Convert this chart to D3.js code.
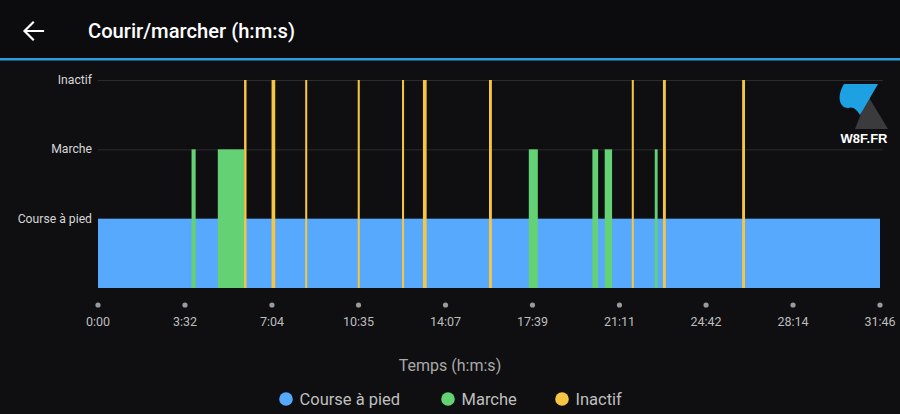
<!DOCTYPE html>
<html>
<head>
<meta charset="utf-8">
<script src="https://cdn.jsdelivr.net/npm/d3@7"></script>
<style>
  html, body { margin: 0; padding: 0; background: #0f0f12; }
  svg { display: block; font-family: Roboto, "Noto Sans", sans-serif; }
</style>
</head>
<body>
<svg id="chart" width="900" height="414"></svg>
<script>
// ---- Data (seconds) ----
const totalDuration = 1906; // 31:46
const levels = ["Course à pied", "Marche", "Inactif"];
const levelColors = ["#56a9fd", "#63d174", "#f7c544"];
const runStart = [0];
const runEnd = [1906];
const walkStart = [228, 292, 1050, 1205, 1235, 1357];
const walkEnd   = [238, 356, 1072, 1219, 1253, 1364];
const idleStart = [356, 423, 505, 633, 741, 792, 953, 1301, 1377, 1570];
const idleEnd   = [362, 432, 510, 638, 746, 801, 960, 1306, 1384, 1577];
const tickValues = [0, 212, 424, 635, 847, 1059, 1271, 1482, 1694, 1906];
const tickLabels = ["0:00", "3:32", "7:04", "10:35", "14:07", "17:39", "21:11", "24:42", "28:14", "31:46"];

const svg = d3.select("#chart");

// header
svg.append("rect").attr("x", 0).attr("y", 0).attr("width", 900).attr("height", 58).attr("fill", "#0c0c0f");
svg.append("rect").attr("x", 0).attr("y", 58).attr("width", 900).attr("height", 2.5).attr("fill", "#2a9fdc");
svg.append("path")
  .attr("d", "M43,31 L25,31 M33,22.5 L24.5,31 L33,39.5")
  .attr("fill", "none").attr("stroke", "#ffffff").attr("stroke-width", 2.2)
  .attr("stroke-linecap", "square");
svg.append("text").attr("x", 88).attr("y", 38)
  .attr("fill", "#ffffff").attr("font-size", 20).attr("font-weight", 500)
  .attr("textLength", 207).attr("lengthAdjust", "spacingAndGlyphs")
  .text("Courir/marcher (h:m:s)");

// scales
const x = d3.scaleLinear().domain([0, totalDuration]).range([98, 880]);
const y = d3.scaleLinear().domain([0, 3]).range([288, 80]);

// gridlines
svg.append("g").selectAll("line").data([2, 3]).join("line")
  .attr("x1", 98).attr("x2", 883)
  .attr("y1", d => y(d) + 0.5).attr("y2", d => y(d) + 0.5)
  .attr("stroke", "#2c2c2e").attr("stroke-width", 1);

// y labels
svg.append("g").selectAll("text").data(levels).join("text")
  .attr("x", 92).attr("y", (d, i) => y(i + 1) + 4)
  .attr("text-anchor", "end").attr("fill", "#d6d6d6").attr("font-size", 12.2)
  .text(d => d);

// bars
function drawSegs(starts, ends, level) {
  const data = starts.map((s, i) => ({ s, e: ends[i] }));
  svg.append("g").selectAll("rect").data(data).join("rect")
    .attr("x", d => x(d.s))
    .attr("width", d => Math.max(1, x(d.e) - x(d.s)))
    .attr("y", y(level + 1))
    .attr("height", y(0) - y(level + 1))
    .attr("fill", levelColors[level]);
}
drawSegs(runStart, runEnd, 0);
drawSegs(walkStart, walkEnd, 1);
drawSegs(idleStart, idleEnd, 2);

// x axis ticks (dots + labels)
const xa = svg.append("g");
xa.selectAll("circle").data(tickValues).join("circle")
  .attr("cx", d => x(d)).attr("cy", 305).attr("r", 2.6).attr("fill", "#9a9a9a");
xa.selectAll("text").data(tickValues).join("text")
  .attr("x", d => x(d)).attr("y", 326)
  .attr("text-anchor", "middle").attr("fill", "#bdbdbd").attr("font-size", 12.5)
  .text((d, i) => tickLabels[i]);

svg.append("text").attr("x", 450).attr("y", 371)
  .attr("text-anchor", "middle").attr("fill", "#a9a9a9").attr("font-size", 16)
  .text("Temps (h:m:s)");

// legend
const legendX = [286, 448, 562];
const lg = svg.append("g");
levels.forEach((name, i) => {
  lg.append("circle").attr("cx", legendX[i]).attr("cy", 399).attr("r", 6.8).attr("fill", levelColors[i]);
  lg.append("text").attr("x", legendX[i] + 13.5).attr("y", 405)
    .attr("fill", "#bfbfbf").attr("font-size", 16.5).text(name);
});

// watermark logo
const logo = svg.append("g");
logo.append("path").attr("d", "M868,96 L888,129 L855,129 Z").attr("fill", "#3b3b3d");
logo.append("path")
  .attr("d", "M844,84 L878,84 L860,115 C857,110 853,106 848,108 C840,108 836,97 844,84 Z")
  .attr("fill", "#1ea1e3");
logo.append("text").attr("x", 864).attr("y", 143).attr("text-anchor", "middle")
  .attr("fill", "#ffffff").attr("font-size", 13).attr("font-weight", 700)
  .attr("font-family", "Arial, 'Liberation Sans', sans-serif")
  .text("W8F.FR");
</script>
</body>
</html>
